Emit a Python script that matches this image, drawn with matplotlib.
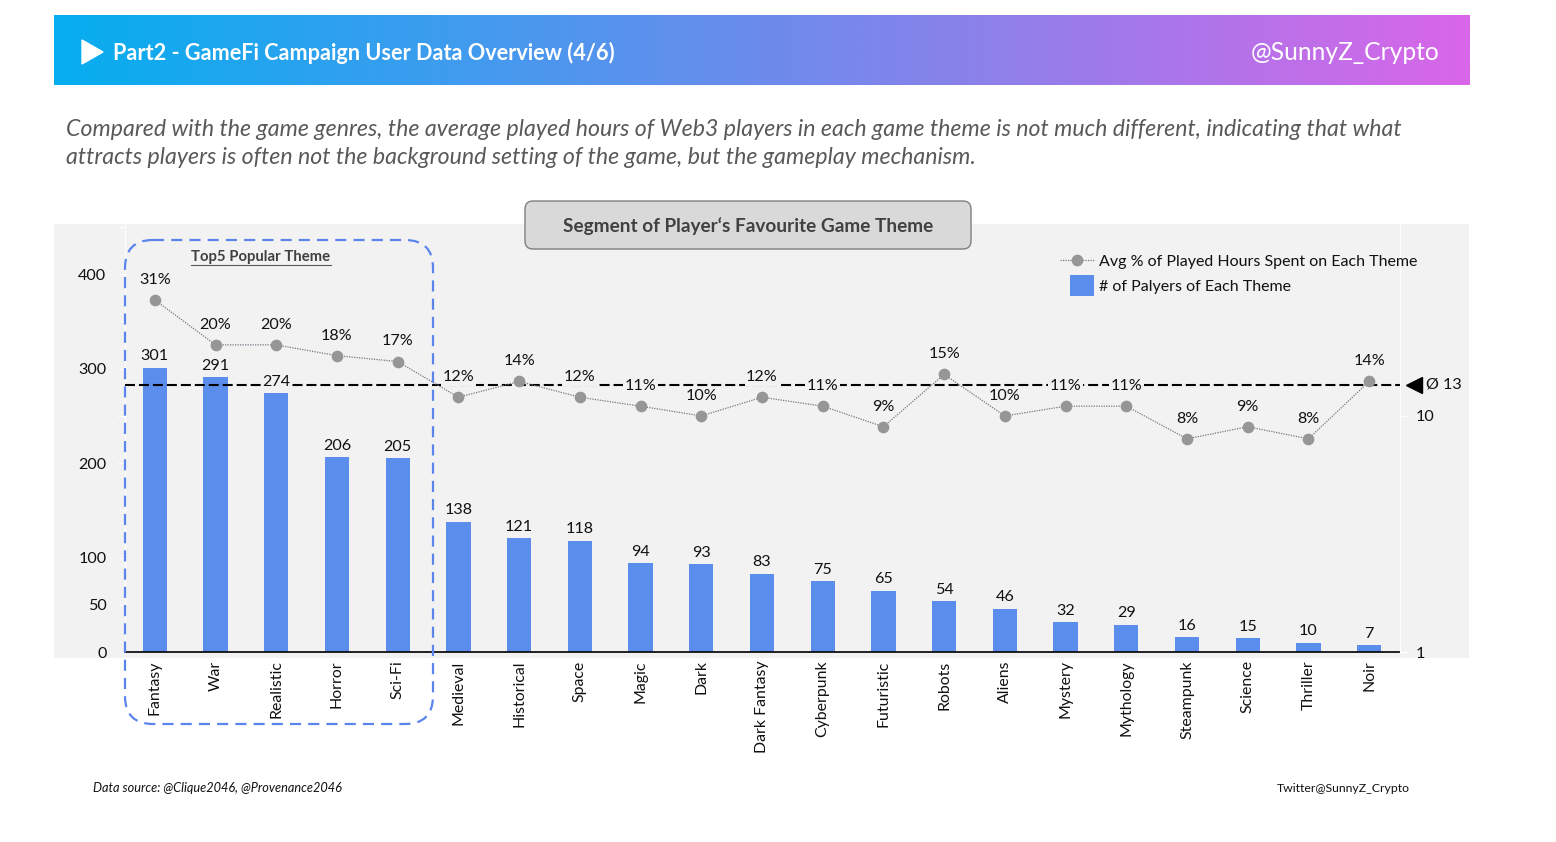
import numpy as np
import matplotlib
matplotlib.use('Agg')
import matplotlib.pyplot as plt
from matplotlib.colors import LinearSegmentedColormap
from matplotlib.legend_handler import HandlerPatch
from matplotlib.lines import Line2D
from matplotlib.patches import FancyBboxPatch, Patch, Polygon, Rectangle

plt.rcParams['font.family'] = ['Lato', 'DejaVu Sans']

# Chart data
themes = ['Fantasy', 'War', 'Realistic', 'Horror', 'Sci-Fi', 'Medieval', 'Historical',
          'Space', 'Magic', 'Dark', 'Dark Fantasy', 'Cyberpunk', 'Futuristic', 'Robots',
          'Aliens', 'Mystery', 'Mythology', 'Steampunk', 'Science', 'Thriller', 'Noir']
players = [301, 291, 274, 206, 205, 138, 121, 118, 94, 93, 83, 75, 65, 54, 46, 32, 29, 16, 15, 10, 7]
hours_pct = [31, 20, 20, 18, 17, 12, 14, 12, 11, 10, 12, 11, 9, 15, 10, 11, 11, 8, 9, 8, 14]
avg_hours = 13.55
left_ticks = [0, 50, 100, 150, 200, 250, 300, 350, 400, 450]
left_labels = ['0', '50', '100', '', '200', '', '300', '', '400', '']

BLUE = '#5B8DEC'
GRAY = '#969696'
LINE = '#737884'
PANEL = '#F2F2F2'
W, H = 1556, 842


# Legend swatch is narrower than the line handle
def narrow_patch(legend, orig_handle, xdescent, ydescent, width, height, fontsize):
    return Rectangle((0.3 * width - xdescent, -ydescent - 2), 0.7 * width, height + 4)


fig = plt.figure(figsize=(W / 100, H / 100), dpi=100, facecolor='white')

# Background layer in pixel coordinates, for the slide furniture
bg = fig.add_axes([0, 0, 1, 1], zorder=0)

# Banner gradient
cmap = LinearSegmentedColormap.from_list('banner', ['#05AEEF', '#4A98EE', '#8E80EA', '#D966E8'])
bg.imshow(np.linspace(0, 1, 512).reshape(1, -1), cmap=cmap, aspect='auto',
          extent=(54, 1470, 85, 15), zorder=1)
bg.set_xlim(0, W)
bg.set_ylim(H, 0)
bg.axis('off')
bg.add_patch(Polygon([(82, 40), (103, 52), (82, 64)], closed=True, color='white', zorder=2))
bg.text(113, 53, 'Part2 - GameFi Campaign User Data Overview (4/6)', color='white',
        fontsize=15.6, fontweight='bold', va='center', zorder=3)
bg.text(1440, 53, '@SunnyZ_Crypto', color='white', fontsize=17.7, ha='right', va='center', zorder=3)

# Intro sentence
bg.text(66, 130, 'Compared with the game genres, the average played hours of Web3 players in each game theme is not much different, indicating that what',
        color='#595959', fontsize=16.7, style='italic', va='center')
bg.text(66, 158, 'attracts players is often not the background setting of the game, but the gameplay mechanism.',
        color='#595959', fontsize=16.7, style='italic', va='center')

# Chart panel
bg.add_patch(Rectangle((54, 224), 1415, 434, facecolor=PANEL, edgecolor='none', zorder=1))

# Footer
bg.text(93, 788, 'Data source: @Clique2046, @Provenance2046', fontsize=9.15, style='italic',
        color='#111111', va='center')
bg.text(1410, 788, 'Twitter@SunnyZ_Crypto', fontsize=8.8, color='#111111', ha='right', va='center')

# Main chart, bars on the left axis
ax = fig.add_axes([124.5 / W, (H - 652) / H, 1275 / W, 427 / H], zorder=2)
ax.patch.set_alpha(0)
x = np.arange(len(themes))
ax.bar(x, players, width=0.4, color=BLUE, zorder=2)
ax.set_xlim(-0.5, len(themes) - 0.5)
ax.set_ylim(0, 452)
ax.set_xticks(x)
ax.set_xticklabels(themes, rotation=90, fontsize=11.4, color='#111111')
ax.set_yticks(left_ticks)
ax.set_yticklabels(left_labels, fontsize=11.6, color='#111111')
ax.tick_params(axis='x', length=0, pad=6)
ax.tick_params(axis='y', length=5, color='white', pad=8)
for s in ['top', 'right']:
    ax.spines[s].set_visible(False)
ax.spines['left'].set_color('white')
ax.spines['bottom'].set_color('#111111')
ax.spines['bottom'].set_linewidth(1.3)
ax.spines['bottom'].set_zorder(5)

# Hours line on a log axis
ax2 = ax.twinx()
ax2.set_zorder(3)
ax2.patch.set_alpha(0)
ax2.set_yscale('log')
ax2.set_ylim(1, 64.4)
ax2.set_yticks([1, 10])
ax2.set_yticklabels(['1', '10'], fontsize=11.6, color='#111111')
ax2.minorticks_off()
ax2.tick_params(axis='y', length=5, color='white', pad=7)
for s in ['top', 'left', 'bottom']:
    ax2.spines[s].set_visible(False)
ax2.spines['right'].set_color('white')

ax2.axhline(avg_hours, color='black', linestyle=(0, (4.8, 1.9)), linewidth=1.5, zorder=2)
ax2.plot(x, hours_pct, color=LINE, linestyle=(0, (1, 1)), linewidth=0.9, marker='o', markersize=7.4,
         markerfacecolor=GRAY, markeredgecolor=GRAY, zorder=3)

# Bar labels go on the top axis so the 274 label can mask the dashed line
for xi, v in zip(x, players):
    ax2.annotate(str(v), (xi, v), xycoords=ax.transData, xytext=(0, 3), textcoords='offset points',
                 ha='center', va='bottom', fontsize=11.6, color='#111111', zorder=6,
                 bbox=dict(facecolor=PANEL, edgecolor='none', pad=0.6) if v == 274 else None)

for xi, v in zip(x, hours_pct):
    near_avg = 11 <= v <= 12
    ax2.annotate(f'{v}%', (xi, v), xytext=(0, 14.5), textcoords='offset points', ha='center', va='center',
                 fontsize=11.6, color='#111111', zorder=6,
                 bbox=dict(facecolor=PANEL, edgecolor='none', pad=1.2) if near_avg else None)

# Average marker at the right edge
ax2.plot([1.011], [avg_hours], marker='<', color='black', markersize=11, clip_on=False,
         transform=ax2.get_yaxis_transform())
ax2.annotate('Ø 13', (1, avg_hours), xycoords=ax2.get_yaxis_transform(), xytext=(19, 0),
             textcoords='offset points', va='center', fontsize=11.6, color='#111111')

# Legend
line_handle = Line2D([0], [0], color=LINE, linestyle=(0, (1, 1)), linewidth=0.9, marker='o',
                     markersize=7.4, markerfacecolor=GRAY, markeredgecolor=GRAY)
bar_handle = Patch(facecolor=BLUE, edgecolor='none')
fig.legend([line_handle, bar_handle],
           ['Avg % of Played Hours Spent on Each Theme', '# of Palyers of Each Theme'],
           handler_map={bar_handle: HandlerPatch(patch_func=narrow_patch)},
           loc='upper left', bbox_to_anchor=(1060 / W, 1 - 253 / H), frameon=False, fontsize=11.5,
           labelcolor='#111111', handlelength=2.1, handleheight=1.1, handletextpad=0.37,
           labelspacing=0.55, borderpad=0, borderaxespad=0)

# Overlay: title box, top-five outline
top = fig.add_axes([0, 0, 1, 1], zorder=5)
top.set_xlim(0, W)
top.set_ylim(H, 0)
top.axis('off')
top.add_patch(FancyBboxPatch((525, 201), 446, 48, boxstyle='round,pad=0,rounding_size=8',
                             facecolor='#D9D9D9', edgecolor='#7F7F7F', linewidth=1))
top.text(748, 226, 'Segment of Player\u2018s Favourite Game Theme', fontsize=13.7, fontweight='bold',
         color='#404040', ha='center', va='center')
top.add_patch(FancyBboxPatch((125, 240), 308, 484, boxstyle='round,pad=0,rounding_size=28',
                             facecolor='none', edgecolor='#5B85EC', linewidth=1.6,
                             linestyle=(0, (5, 3.2))))
top.text(261, 257, 'Top5 Popular Theme', fontsize=10.7, fontweight='bold', color='#404040',
         ha='center', va='center')
top.plot([191, 331], [265, 265], color='#595959', linewidth=0.8)

fig.savefig('out.png', dpi=100)
